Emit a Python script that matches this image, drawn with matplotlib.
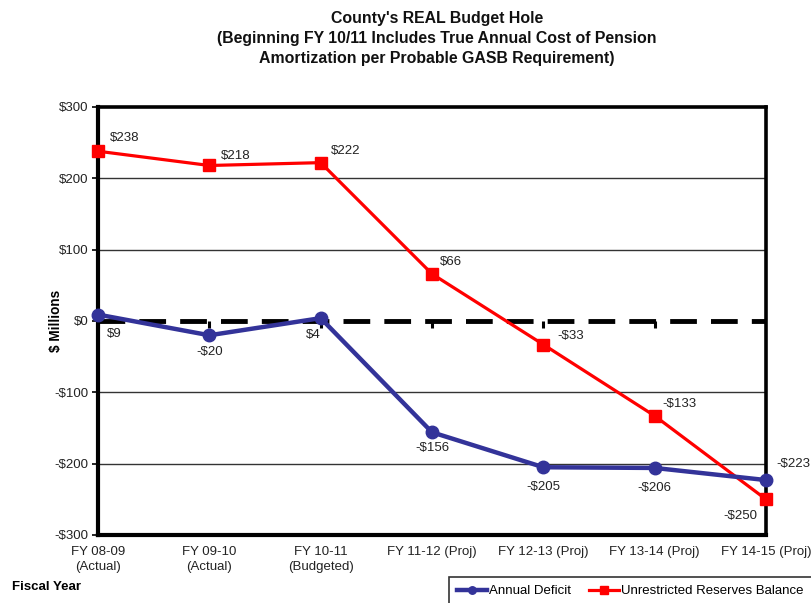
import matplotlib.pyplot as plt
import numpy as np

plt.rcParams['font.family'] = ['Liberation Sans', 'DejaVu Sans']

# data
categories = ['FY 08-09\n(Actual)', 'FY 09-10\n(Actual)', 'FY 10-11\n(Budgeted)',
              'FY 11-12 (Proj)', 'FY 12-13 (Proj)', 'FY 13-14 (Proj)', 'FY 14-15 (Proj)']
deficit = [9, -20, 4, -156, -205, -206, -223]
reserves = [238, 218, 222, 66, -33, -133, -250]
yticks = [300, 200, 100, 0, -100, -200, -300]

# label offsets in pixels (dx, dy), converted to points below
deficit_off = [(9, -19), (0, -17), (0, -17), (0, -16), (0, -20), (0, -20), (10, 16)]
deficit_ha = ['left', 'center', 'right', 'center', 'center', 'center', 'left']
reserves_off = [(12, 13), (12, 9), (10, 12), (8, 12), (14, 9), (8, 12), (-9, -17)]
reserves_ha = ['left', 'left', 'left', 'left', 'left', 'left', 'right']
px = 0.72

fig = plt.figure(figsize=(8.12, 6.03), dpi=100)
ax = fig.add_axes([98 / 812, 1 - 535 / 603, 668 / 812, 428 / 603])

x = np.arange(len(categories))

for y in [200, 100, -100, -200]:
    ax.axhline(y, color='#333333', lw=1, zorder=1)
ax.axhline(0, color='black', lw=3.5, ls=(0, (5.5, 2.9)), zorder=2)
# little category ticks hanging from the zero line
for xi in x:
    ax.plot([xi, xi], [0, -10], color='black', lw=2.2, zorder=2, solid_capstyle='butt')

ax.plot(x, deficit, color='#333399', lw=3.2, marker='o', ms=9, zorder=4,
        label='Annual Deficit', clip_on=False)
ax.plot(x, reserves, color='#FF0000', lw=2.3, marker='s', ms=9, zorder=3,
        label='Unrestricted Reserves Balance', clip_on=False)

def fmt(v):
    return ('-$%d' % abs(v)) if v < 0 else ('$%d' % v)

for i in range(len(x)):
    dx, dy = deficit_off[i]
    ax.annotate(fmt(deficit[i]), (x[i], deficit[i]), xytext=(dx * px, dy * px),
                textcoords='offset points', ha=deficit_ha[i], va='center', fontsize=9.5,
                color='#222222', annotation_clip=False)
    dx, dy = reserves_off[i]
    ax.annotate(fmt(reserves[i]), (x[i], reserves[i]), xytext=(dx * px, dy * px),
                textcoords='offset points', ha=reserves_ha[i], va='center', fontsize=9.5,
                color='#222222', annotation_clip=False)

ax.set_xlim(0, 6)
ax.set_ylim(-300, 300)
ax.set_yticks(yticks)
ax.set_yticklabels([fmt(v) for v in yticks], fontsize=9.5, color='#222222')
ax.set_xticks(x)
ax.set_xticklabels(categories, fontsize=9.5, color='#222222')
for t in ax.get_xticklabels():
    t.set_linespacing(1.35)
ax.tick_params(axis='x', length=0, pad=8)
ax.tick_params(axis='y', length=4, width=1.2, pad=3)
for s in ax.spines.values():
    s.set_linewidth(2.6)
ax.spines['left'].set_linewidth(3)
ax.spines['bottom'].set_linewidth(3)

ax.set_ylabel('$ Millions', fontsize=9.8, fontweight='bold')
ax.yaxis.set_label_coords(-35 / 668, 0.5)

title_lines = ["County's REAL Budget Hole",
               "(Beginning FY 10/11 Includes True Annual Cost of Pension",
               "Amortization per Probable GASB Requirement)"]
for k, line in enumerate(title_lines):
    fig.text(437 / 812, 1 - (18 + 20 * k) / 603, line, ha='center', va='center',
             fontsize=11.4, fontweight='bold', color='#111111')
fig.text(12 / 812, 1 - 587 / 603, 'Fiscal Year', fontsize=9.5, fontweight='bold', va='center')

leg = fig.legend(loc='upper left', bbox_to_anchor=(449 / 812, 1 - 577 / 603), ncol=2,
                 fontsize=9.5, frameon=True, fancybox=False, edgecolor='black',
                 handlelength=2.3, handletextpad=0.15, columnspacing=1.35,
                 borderpad=0.6, borderaxespad=0, markerscale=0.6)
leg.get_frame().set_linewidth(1.2)

fig.savefig('out.png', dpi=100)
